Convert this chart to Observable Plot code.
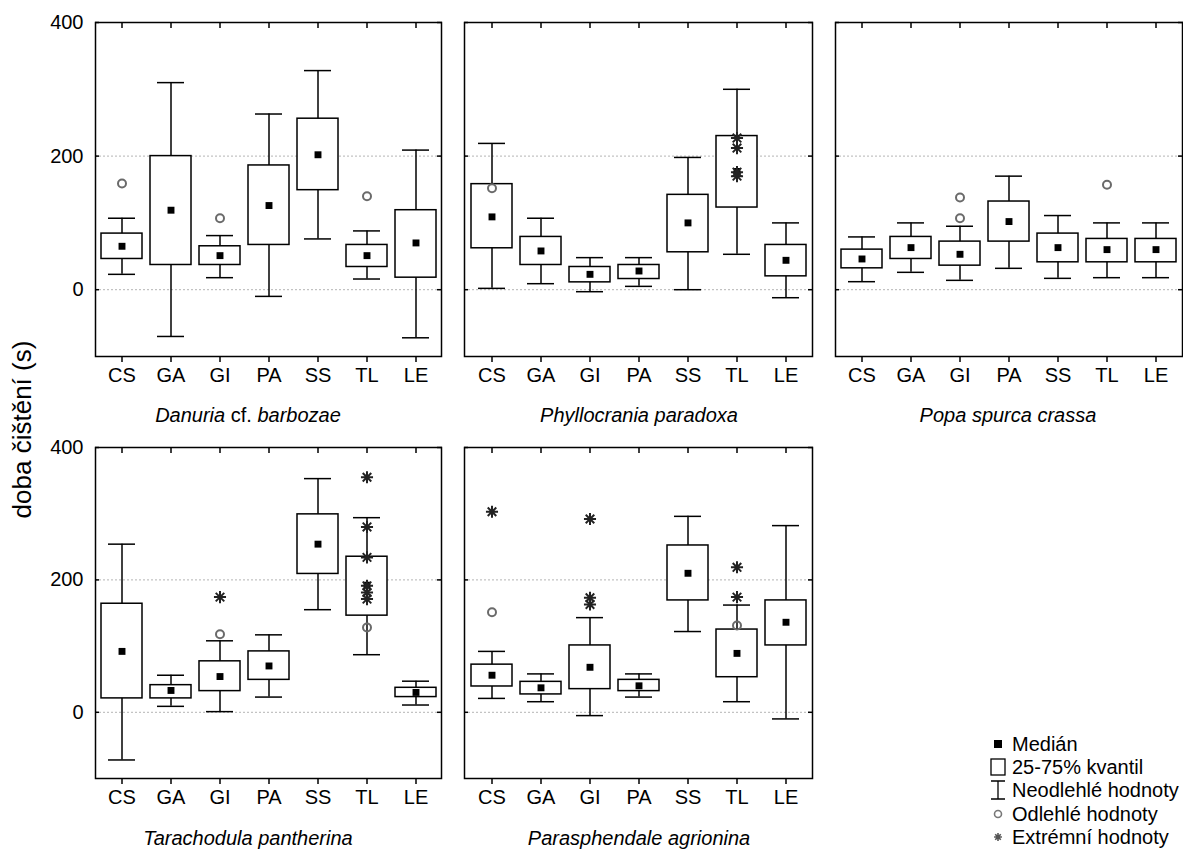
<!DOCTYPE html>
<html>
<head>
<meta charset="utf-8">
<script src="https://cdn.jsdelivr.net/npm/d3@7"></script>
<script src="https://cdn.jsdelivr.net/npm/@observablehq/plot@0.6"></script>
<style>
  html, body { margin: 0; padding: 0; background: #fff; }
  #root { position: relative; width: 1183px; height: 851px; overflow: hidden; background: #fff;
          font-family: "Liberation Sans", Arial, sans-serif; color: #000; }
  .panel { position: absolute; }
  .title { position: absolute; width: 360px; text-align: center; font-size: 20px; line-height: 20px; font-style: italic; white-space: nowrap; }
  .title .up { font-style: normal; }
  #ylabel { position: absolute; font-size: 26px; white-space: nowrap; transform-origin: center center; }
</style>
</head>
<body>
<div id="root"></div>
<script>
// ---------- data ----------
const categories = ["CS", "GA", "GI", "PA", "SS", "TL", "LE"];
const species = ["Danuria cf. barbozae", "Phyllocrania paradoxa", "Popa spurca crassa", "Tarachodula pantherina", "Parasphendale agrionina"];
const yTicks = [0, 200, 400];

// rows: one per species, columns follow categories
const whiskerLow = [
  [23, -70, 18, -10, 76, 16, -72],
  [2, 9, -3, 5, 0, 53, -12],
  [12, 26, 14, 32, 17, 18, 18],
  [-72, 9, 1, 23, 155, 87, 11],
  [21, 16, -5, 23, 122, 16, -10]
];
const quartile1 = [
  [46, 37, 37, 67, 149, 34, 18],
  [62, 37, 11, 16, 56, 123, 20],
  [32, 46, 36, 72, 41, 41, 41],
  [21, 21, 32, 49, 209, 146, 23],
  [39, 27, 35, 32, 169, 53, 101]
];
const median = [
  [65, 119, 51, 126, 202, 51, 70],
  [109, 58, 23, 28, 100, 177, 44],
  [46, 63, 53, 102, 63, 60, 60],
  [92, 33, 54, 70, 254, 192, 30],
  [56, 37, 68, 40, 210, 89, 136]
];
const quartile3 = [
  [84, 200, 65, 186, 256, 67, 119],
  [158, 79, 34, 37, 142, 230, 67],
  [60, 79, 72, 132, 84, 76, 76],
  [164, 41, 77, 92, 299, 235, 37],
  [72, 46, 101, 49, 252, 125, 169]
];
const whiskerHigh = [
  [107, 310, 81, 263, 328, 88, 209],
  [219, 107, 48, 48, 198, 300, 100],
  [79, 100, 95, 170, 111, 100, 100],
  [254, 56, 108, 117, 353, 294, 47],
  [92, 58, 143, 58, 296, 162, 282]
];
// outliers: [species index, category, value]
const outliers = [
  [0, "CS", 159], [0, "GI", 107], [0, "TL", 140],
  [1, "CS", 152],
  [2, "GI", 138], [2, "GI", 107], [2, "TL", 157],
  [3, "GI", 118], [3, "TL", 128],
  [4, "CS", 151], [4, "TL", 131]
];
// extremes: [species index, category, value]
const extremes = [
  [1, "TL", 227], [1, "TL", 212], [1, "TL", 176], [1, "TL", 170],
  [3, "GI", 174], [3, "TL", 355], [3, "TL", 280], [3, "TL", 234], [3, "TL", 191], [3, "TL", 181], [3, "TL", 171],
  [4, "CS", 303], [4, "GI", 292], [4, "GI", 173], [4, "GI", 163], [4, "TL", 219], [4, "TL", 174]
];
const legendLabels = ["Medián", "25-75% kvantil", "Neodlehlé hodnoty", "Odlehlé hodnoty", "Extrémní hodnoty"];
const yLabel = "doba čištění (s)";

// ---------- layout ----------
const frames = [
  {left: 95, top: 22, w: 346, h: 334, yAxis: true},
  {left: 464, top: 22, w: 348, h: 334, yAxis: false},
  {left: 835, top: 22, w: 347, h: 334, yAxis: false},
  {left: 95, top: 447, w: 346, h: 331, yAxis: true},
  {left: 464, top: 447, w: 348, h: 331, yAxis: false}
];
const titlePos = [
  {cx: 248, top: 405}, {cx: 639, top: 405}, {cx: 1008, top: 405},
  {cx: 248, top: 828}, {cx: 639, top: 828}
];
const root = document.getElementById("root");
const FONT = "'Liberation Sans', Arial, sans-serif";

// star-like symbol for extreme values (8 arms)
const star8 = {
  draw(context, size) {
    const r = Math.sqrt(size) * 0.62;
    for (let k = 0; k < 4; k++) {
      const a = k * Math.PI / 4;
      const dx = r * Math.cos(a), dy = r * Math.sin(a);
      context.moveTo(-dx, -dy);
      context.lineTo(dx, dy);
    }
  }
};

function panel(i) {
  const f = frames[i];
  const ML = f.yAxis ? 60 : 6, MR = 1, MT = 14, MB = 36;
  const rows = categories.map((c, j) => ({
    cat: c, lo: whiskerLow[i][j], q1: quartile1[i][j], med: median[i][j], q3: quartile3[i][j], hi: whiskerHigh[i][j]
  }));
  const outs = outliers.filter(d => d[0] === i).map(d => ({cat: d[1], v: d[2]}));
  const ext = extremes.filter(d => d[0] === i).map(d => ({cat: d[1], v: d[2]}));
  const chart = Plot.plot({
    width: f.w + ML + MR, height: f.h + MT + MB,
    marginLeft: ML, marginRight: MR, marginTop: MT, marginBottom: MB,
    x: {type: "band", domain: categories, padding: 0},
    y: {domain: [-100, 400]},
    style: {fontFamily: FONT, fontSize: "20px", color: "#000", background: "transparent", overflow: "visible"},
    marks: [
      Plot.ruleY([0, 200], {stroke: "#b4b4b4", strokeDasharray: "2,2", strokeWidth: 1}),
      Plot.axisX({anchor: "bottom", tickSize: 6, tickPadding: 5, label: null, fontSize: 20, strokeWidth: 1.5}),
      Plot.axisX({anchor: "top", tickSize: -5, tickFormat: () => "", label: null, strokeWidth: 1.5}),
      Plot.axisY({anchor: "left", ticks: yTicks, tickSize: -4, tickPadding: 16, label: null, fontSize: 20,
                  tickFormat: f.yAxis ? (d => String(d)) : (() => ""), strokeWidth: 1.5}),
      Plot.axisY({anchor: "right", ticks: yTicks, tickSize: -5, tickFormat: () => "", label: null, strokeWidth: 1.5}),
      Plot.ruleX(rows, {x: "cat", y1: "lo", y2: "hi", stroke: "#000", strokeWidth: 1.5}),
      Plot.tickY(rows, {x: "cat", y: "lo", insetLeft: 11, insetRight: 11, stroke: "#000", strokeWidth: 1.5}),
      Plot.tickY(rows, {x: "cat", y: "hi", insetLeft: 11, insetRight: 11, stroke: "#000", strokeWidth: 1.5}),
      Plot.barY(rows, {x: "cat", y1: "q1", y2: "q3", fill: "#fff", stroke: "#000", strokeWidth: 1.5, insetLeft: 4, insetRight: 4}),
      Plot.dot(rows, {x: "cat", y: "med", symbol: "square", fill: "#000", stroke: "none", r: 3.9}),
      Plot.dot(outs, {x: "cat", y: "v", r: 4, stroke: "#6a6a6a", strokeWidth: 2, fill: "none"}),
      Plot.dot(ext, {x: "cat", y: "v", symbol: star8, r: 5.5, stroke: "#222", strokeWidth: 2}),
      Plot.frame({stroke: "#000", strokeWidth: 1.5})
    ]
  });
  const wrap = document.createElement("div");
  wrap.className = "panel";
  wrap.style.left = (f.left - ML) + "px";
  wrap.style.top = (f.top - MT) + "px";
  wrap.style.width = (f.w + ML + MR) + "px";
  wrap.appendChild(chart);
  root.appendChild(wrap);

  const t = document.createElement("div");
  t.className = "title";
  t.style.left = (titlePos[i].cx - 180) + "px";
  t.style.top = titlePos[i].top + "px";
  const name = species[i];
  if (name.includes(" cf. ")) {
    const parts = name.split(" cf. ");
    t.innerHTML = parts[0] + ' <span class="up">cf.</span> ' + parts[1];
  } else {
    t.textContent = name;
  }
  root.appendChild(t);
}
for (let i = 0; i < species.length; i++) panel(i);

// y label
const yl = document.createElement("div");
yl.id = "ylabel";
yl.textContent = yLabel;
root.appendChild(yl);
const r = yl.getBoundingClientRect();
yl.style.left = (23 - r.width / 2) + "px";
yl.style.top = (429 - r.height / 2) + "px";
yl.style.transform = "rotate(-90deg)";

// legend
const lx = 998, ly = [744, 767, 790, 814, 837];
const sym = [
  `<rect x="${lx - 4}" y="${ly[0] - 4}" width="8" height="8" fill="#000"/>`,
  `<rect x="${lx - 7}" y="${ly[1] - 8}" width="14" height="16" fill="none" stroke="#000" stroke-width="1.3"/>`,
  `<path d="M${lx - 7},${ly[2] - 9}h14M${lx},${ly[2] - 9}v18M${lx - 7},${ly[2] + 9}h14" fill="none" stroke="#000" stroke-width="1.3"/>`,
  `<circle cx="${lx}" cy="${ly[3]}" r="3.5" fill="none" stroke="#777" stroke-width="1.6"/>`,
  `<path d="${d3.symbol(star8, 40)()}" transform="translate(${lx},${ly[4]})" fill="none" stroke="#555" stroke-width="1.6"/>`
];
let leg = `<svg width="1183" height="851" style="position:absolute;left:0;top:0;pointer-events:none;font-family:${FONT}">`;
legendLabels.forEach((lab, k) => {
  leg += sym[k];
  leg += `<text x="1012" y="${ly[k]}" dy="0.35em" font-size="20">${lab}</text>`;
});
leg += `</svg>`;
root.insertAdjacentHTML("beforeend", leg);
</script>
</body>
</html>
